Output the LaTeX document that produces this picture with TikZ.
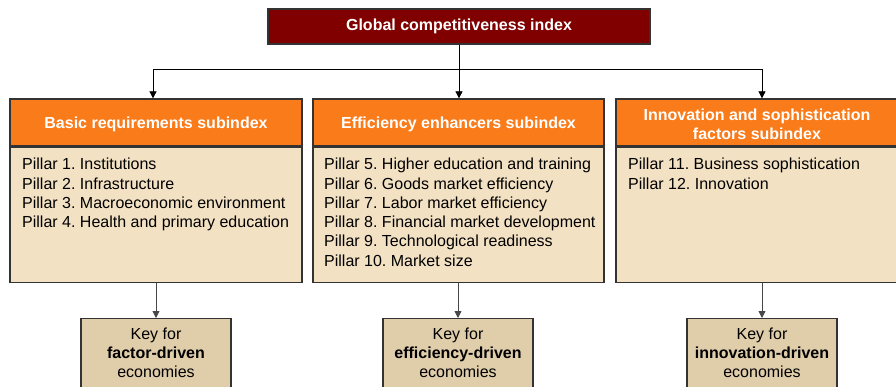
\documentclass[tikz,border=0pt]{standalone}
\usepackage{fontspec}
\setmainfont{Liberation Sans}
\usetikzlibrary{arrows.meta}
\definecolor{darkred}{HTML}{800000}
\definecolor{orng}{HTML}{FA7B1A}
\definecolor{bodyfill}{HTML}{F3E1C3}
\definecolor{keyfill}{HTML}{E0CDAA}
\definecolor{edge}{HTML}{333333}
\frenchspacing
\tikzset{
  boxline/.style={draw=edge, line width=1.3pt},
  titlebox/.style={boxline, fill=darkred, text=white, font=\fontsize{16}{19}\selectfont\bfseries, minimum width=382pt, minimum height=35pt, inner sep=0pt},
  headbox/.style={boxline, fill=orng, minimum height=47pt, inner sep=0pt},
  headtext/.style={text=white, font=\fontsize{16}{19}\selectfont\bfseries, inner sep=0pt, align=center},
  bodybox/.style={boxline, fill=bodyfill, minimum height=135pt, inner sep=0pt},
  bodytext/.style={font=\fontsize{16}{19.25}\selectfont, align=left, inner sep=0pt, anchor=north west},
  keybox/.style={boxline, fill=keyfill, minimum width=150pt, minimum height=80pt, inner sep=0pt, anchor=north},
  keytext/.style={font=\fontsize{16}{19}\selectfont, align=center, inner sep=0pt, anchor=north},
  arr/.style={-{Triangle[length=7pt,width=7pt]}, line width=0.8pt},
}
\begin{document}
\begin{tikzpicture}[x=1pt,y=-1pt]
\useasboundingbox (0,0) rectangle (896,387);
\clip (0,0) rectangle (896,387);
\fill[white] (0,0) rectangle (896,387);
% title
\node[titlebox] (gci) at (459,26.5) {Global competitiveness index};
% headers
\node[headbox, minimum width=292pt] (h1) at (156,122.5) {};
\node[headbox, minimum width=291pt] (h2) at (458.5,122.5) {};
\node[headbox, minimum width=282pt] (h3) at (757,122.5) {};
\node[headtext] (ht1) at ([yshift=-2pt]h1.center) {Basic requirements subindex};
\node[headtext] (ht2) at ([yshift=-2pt]h2.center) {Efficiency enhancers subindex};
\node[headtext] (ht3) at ([yshift=-2pt]h3.center) {Innovation and sophistication\\factors subindex};
% bodies
\node[bodybox, minimum width=292pt, anchor=north] (b1) at (h1.south) {};
\node[bodybox, minimum width=291pt, anchor=north] (b2) at (h2.south) {};
\node[bodybox, minimum width=282pt, anchor=north] (b3) at (h3.south) {};
\node[bodytext] (t1) at (22,158) {Pillar 1. Institutions\\Pillar 2. Infrastructure\\Pillar 3. Macroeconomic environment\\Pillar 4. Health and primary education};
\node[bodytext] (t2) at (324,158) {Pillar 5. Higher education and training\\Pillar 6. Goods market efficiency\\Pillar 7. Labor market efficiency\\Pillar 8. Financial market development\\Pillar 9. Technological readiness\\Pillar 10. Market size};
\node[bodytext] (t3) at (628,158) {Pillar 11. Business sophistication\\Pillar 12. Innovation};
% keys
\node[keybox] (k1) at (156,318) {};
\node[keybox] (k2) at (458,318) {};
\node[keybox] (k3) at (762,318) {};
\node[keytext] (kt1) at (156,328) {Key for\\\textbf{factor-driven}\\economies};
\node[keytext] (kt2) at (458,328) {Key for\\\textbf{efficiency-driven}\\economies};
\node[keytext] (kt3) at (762,328) {Key for\\\textbf{innovation-driven}\\economies};
% connectors
\coordinate (hl) at (153,69);
\coordinate (hm) at (459,69);
\coordinate (hr) at (762,69);
\draw[line width=0.8pt] (gci.south) -- (hm);
\draw[line width=0.8pt] (hl) -- (hr);
\draw[arr] (hl) -- (hl |- h1.north);
\draw[arr] (hm) -- (hm |- h2.north);
\draw[arr] (hr) -- (hr |- h3.north);
\draw[arr, draw=edge!90] (b1.south -| k1.north) -- (k1.north);
\draw[arr, draw=edge!90] (b2.south -| k2.north) -- (k2.north);
\draw[arr, draw=edge!90] (b3.south -| k3.north) -- (k3.north);
\end{tikzpicture}
\end{document}
